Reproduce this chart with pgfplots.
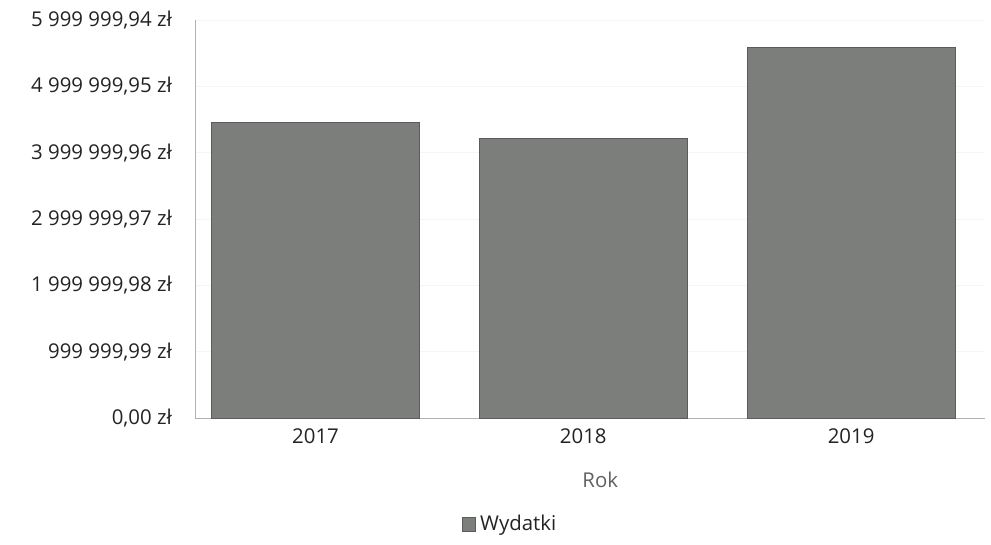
\documentclass[border=0pt]{standalone}
\usepackage{pgfplots}
\pgfplotsset{compat=1.18}
\usepackage{fontspec}
\setmainfont{Open Sans}
\definecolor{bargray}{RGB}{124,126,124}
\definecolor{baredge}{RGB}{90,92,90}
\definecolor{txt}{RGB}{35,35,35}
\begin{document}
\begin{tikzpicture}
\path[use as bounding box] (0,0) rectangle (495.5pt,272.5pt);
\begin{axis}[
  at={(97.5pt,63.5pt)}, anchor=south west,
  scale only axis, width=395pt, height=199pt,
  xmin=-0.45, xmax=2.5, ymin=0, ymax=5999999.94,
  xtick={0,1,2}, xticklabels={2017,2018,2019},
  ytick={0,999999.99,1999999.98,2999999.97,3999999.96,4999999.95,5999999.94},
  yticklabels={{0,00 zł},{999 999,99 zł},{1 999 999,98 zł},{2 999 999,97 zł},{3 999 999,96 zł},{4 999 999,95 zł},{5 999 999,94 zł}},
  scaled y ticks=false,
  axis x line*=bottom, axis y line*=left,
  axis line style={gray!60,-},
  major tick length=0pt,
  ymajorgrids, grid style={gray!8},
  tick label style={font=\fontsize{10.2}{12}\selectfont, text=txt},
  yticklabel style={xshift=-8pt},
  xticklabel style={yshift=-2pt},
  xlabel={Rok},
  xlabel style={font=\fontsize{10.2}{12}\selectfont, text=gray!75!black, at={(axis description cs:0.513,-0.156)}, anchor=center},
  legend style={draw=none, fill=none, font=\fontsize{10.2}{12}\selectfont, text=txt, at={(axis description cs:0.40,-0.267)}, anchor=center, inner sep=0pt},
  legend cell align=left,
  legend image code/.code={\draw[fill=bargray, draw=baredge] (0cm,-0.12cm) rectangle (0.24cm,0.12cm);},
  clip=false,
]
\addplot[ybar, bar width=0.776, fill=bargray, draw=baredge, bar shift=0pt] coordinates {(0,4450000) (1,4220000) (2,5580000)};
\addlegendentry{Wydatki}
\end{axis}
\end{tikzpicture}
\end{document}
